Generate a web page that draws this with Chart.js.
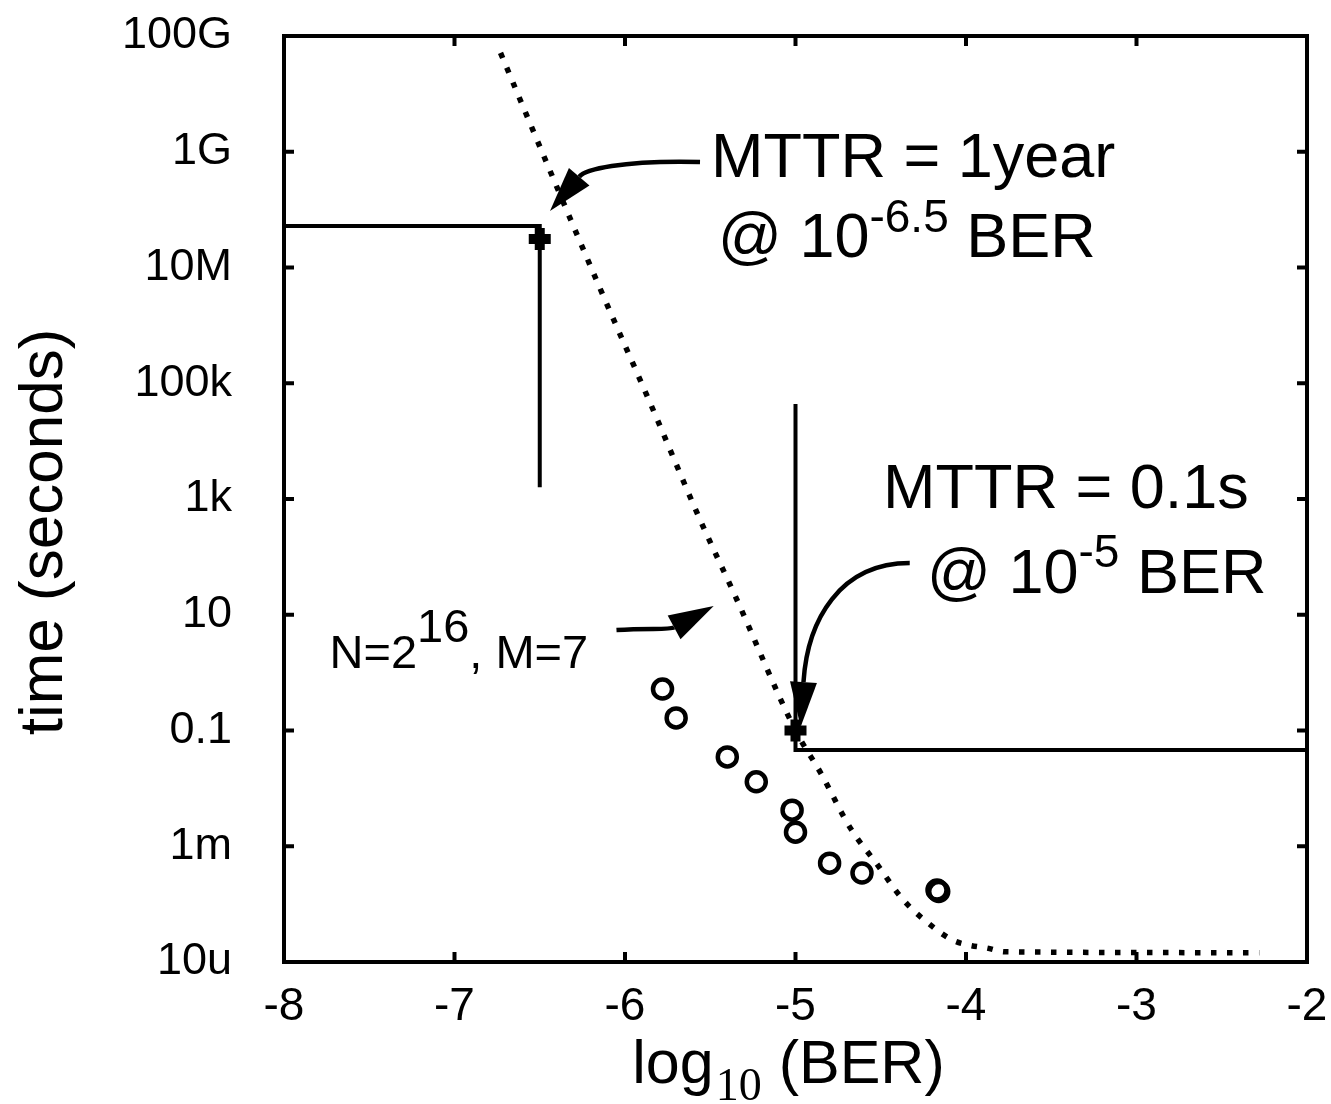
<!DOCTYPE html>
<html>
<head>
<meta charset="utf-8">
<title>MTTR vs BER</title>
<script src="https://cdn.jsdelivr.net/npm/chart.js@4.4.1/dist/chart.umd.min.js"></script>
<style>
  html, body { margin: 0; background: #fff; }
  #wrap { width: 1331px; height: 1104px; }
</style>
</head>
<body>
<div id="wrap"><canvas id="chart"></canvas></div>
<script>
const SANS = '"Liberation Sans", Arial, Helvetica, sans-serif';
const SERIF = '"Liberation Serif", "Times New Roman", serif';

// axis ticks
const xTicks = [-8, -7, -6, -5, -4, -3, -2];
const yTickValues = [1e-5, 1e-3, 1e-1, 10, 1e3, 1e5, 1e7, 1e9, 1e11];
const yTickLabels = ['10u', '1m', '0.1', '10', '1k', '100k', '10M', '1G', '100G'];

// model curve N=2^16, M=7 (dotted)
const curveBer = [-6.73, -6.41, -6.15, -5.85, -5.56, -5.35, -5.0, -4.85, -4.68, -4.52, -4.37, -4.23, -4.08, -3.98, -3.88, -3.77, -2.28];
const curveTime = [5.1e10, 2.9e8, 4.6e6, 4.4e4, 440, 20, 0.1, 0.018, 2.1e-3, 4.8e-4, 1.2e-4, 4.9e-5, 2.4e-5, 1.95e-5, 1.75e-5, 1.5e-5, 1.45e-5];

// measured points (o)
const measBer = [-5.78, -5.70, -5.40, -5.23, -5.02, -5.0, -4.80, -4.61, -4.17, -4.16];
const measTime = [0.52, 0.165, 0.035, 0.013, 4.2e-3, 1.75e-3, 5.1e-4, 3.45e-4, 1.75e-4, 1.65e-4];

// operating points (+)
const opBer = [-6.5, -5];
const opTime = [3.1e7, 0.1];

// bracket lines
const yearLineBer = [-8, -6.5, -6.5];
const yearLineTime = [5.2e7, 5.2e7, 1.6e3];
const fastLineBer = [-5, -5, -2];
const fastLineTime = [4.4e4, 0.046, 0.046];

// annotation arrows: start, ctrl1, ctrl2, tip  (ber, seconds)
const arrows = [
  [[-5.56, 6.65e8], [-6.03, 7.2e8], [-6.235, 4.84e8], [-6.44, 9.5e7]],
  [[-6.05, 5.46], [-5.85, 5.9], [-5.74, 5.46], [-5.48, 14.2]],
  [[-4.33, 78], [-4.74, 78], [-4.93, 8.1], [-4.97, 0.115]]
];

// annotation texts: anchor (ber, seconds), size, parts [text, sup?]
const notes = [
  { at: [-5.496, 3.66e8], size: 63, parts: [['MTTR = 1year']] },
  { at: [-5.455, 1.52e7], size: 63, sup: 46, rise: 25, parts: [['@ 10'], ['-6.5', true], [' BER']] },
  { at: [-4.487, 700], size: 63, parts: [['MTTR = 0.1s']] },
  { at: [-4.229, 23.8], size: 63, sup: 46, rise: 26, parts: [['@ 10'], ['-5', true], [' BER']] },
  { at: [-7.733, 1.2], size: 47, sup: 47, rise: 26, parts: [['N=2'], ['16', true], [', M=7']] }
];

const pts = (xs, ys) => xs.map((v, i) => ({ x: v, y: ys[i] }));

function drawArrow(ctx, p) {
  const [p0, c1, c2, tip] = p;
  const dx = tip.x - c2.x, dy = tip.y - c2.y, len = Math.hypot(dx, dy);
  const ux = dx / len, uy = dy / len;
  const headLen = 45, headW = 13.5;
  const bx = tip.x - ux * headLen, by = tip.y - uy * headLen;
  ctx.lineWidth = 4.5;
  ctx.beginPath();
  ctx.moveTo(p0.x, p0.y);
  ctx.bezierCurveTo(c1.x, c1.y, c2.x, c2.y, bx, by);
  ctx.stroke();
  ctx.beginPath();
  ctx.moveTo(tip.x, tip.y);
  ctx.lineTo(bx - uy * headW, by + ux * headW);
  ctx.lineTo(bx + uy * headW, by - ux * headW);
  ctx.closePath();
  ctx.fill();
}

// keep the plot box where the reference has it: no extra label padding
const noPad = s => { s.paddingTop = 0; s.paddingBottom = 0; s.paddingLeft = 0; s.paddingRight = 0; };

const frame = {
  id: 'frame',
  afterDatasetsDraw(chart) {
    const { ctx, chartArea: a, scales: { x, y } } = chart;
    const toPx = ([bx, t]) => ({ x: x.getPixelForValue(bx), y: y.getPixelForValue(t) });
    ctx.save();
    ctx.strokeStyle = '#000';
    ctx.fillStyle = '#000';

    // box + inner ticks
    ctx.lineWidth = 4;
    ctx.strokeRect(a.left, a.top, a.right - a.left, a.bottom - a.top);
    ctx.beginPath();
    xTicks.forEach(v => {
      const px = x.getPixelForValue(v);
      ctx.moveTo(px, a.bottom); ctx.lineTo(px, a.bottom - 10);
      ctx.moveTo(px, a.top); ctx.lineTo(px, a.top + 10);
    });
    yTickValues.forEach(v => {
      const py = y.getPixelForValue(v);
      ctx.moveTo(a.left, py); ctx.lineTo(a.left + 10, py);
      ctx.moveTo(a.right, py); ctx.lineTo(a.right - 10, py);
    });
    ctx.stroke();

    // arrows
    arrows.forEach(ar => drawArrow(ctx, ar.map(toPx)));

    // notes
    ctx.textBaseline = 'alphabetic';
    ctx.textAlign = 'left';
    notes.forEach(n => {
      let { x: px, y: py } = toPx(n.at);
      n.parts.forEach(([t, isSup]) => {
        const size = isSup ? n.sup : n.size;
        ctx.font = size + 'px ' + SANS;
        ctx.fillText(t, px, isSup ? py - n.rise : py);
        px += ctx.measureText(t).width;
      });
    });

    // x title: log10 (BER)
    const cx = (a.left + a.right) / 2, by = 1083;
    ctx.font = '61px ' + SANS;
    const w1 = ctx.measureText('log').width, w3 = ctx.measureText(' (BER)').width;
    ctx.font = '46px ' + SERIF;
    const w2 = ctx.measureText('10').width;
    let sx = cx - (w1 + w2 + w3) / 2 - 8;
    ctx.font = '61px ' + SANS;
    ctx.fillText('log', sx, by);
    ctx.font = '46px ' + SERIF;
    ctx.fillText('10', sx + w1 + 2, by + 17);
    ctx.font = '61px ' + SANS;
    ctx.fillText(' (BER)', sx + w1 + w2 + 2, by);

    // y title
    ctx.translate(62, 532);
    ctx.rotate(-Math.PI / 2);
    ctx.textAlign = 'center';
    ctx.font = '62px ' + SANS;
    ctx.fillText('time (seconds)', 0, 0);
    ctx.restore();
  }
};

new Chart(document.getElementById('chart'), {
  type: 'scatter',
  data: {
    datasets: [
      {
        label: 'op',
        data: pts(opBer, opTime),
        pointStyle: 'cross',
        pointRadius: 11,
        borderWidth: 10,
        borderColor: '#000'
      },
      {
        label: 'model',
        data: pts(curveBer, curveTime),
        showLine: true,
        borderColor: '#000',
        borderWidth: 5.5,
        borderDash: [5.5, 10.5],
        cubicInterpolationMode: 'monotone',
        pointRadius: 0
      },
      {
        label: 'measured',
        data: pts(measBer, measTime),
        pointStyle: 'circle',
        pointRadius: 9.5,
        borderWidth: 4.5,
        borderColor: '#000',
        backgroundColor: 'rgba(0,0,0,0)'
      },
      {
        label: '1 year',
        data: pts(yearLineBer, yearLineTime),
        showLine: true,
        borderColor: '#000',
        borderWidth: 4,
        pointRadius: 0
      },
      {
        label: '0.1 s',
        data: pts(fastLineBer, fastLineTime),
        showLine: true,
        borderColor: '#000',
        borderWidth: 4,
        pointRadius: 0
      }
    ]
  },
  options: {
    responsive: true,
    maintainAspectRatio: false,
    animation: false,
    events: [],
    layout: { padding: { left: 0, right: 24, top: 36, bottom: 0 } },
    plugins: { legend: { display: false }, tooltip: { enabled: false } },
    scales: {
      x: {
        type: 'linear',
        min: -8,
        max: -2,
        afterBuildTicks: s => { s.ticks = xTicks.map(v => ({ value: v })); },
        afterFit: s => { s.height = 142; noPad(s); },
        grid: { display: false, drawTicks: false },
        border: { display: false },
        ticks: { color: '#000', padding: 18, maxRotation: 0, font: { family: SANS, size: 46 } }
      },
      y: {
        type: 'logarithmic',
        min: 1e-5,
        max: 1e11,
        afterBuildTicks: s => { s.ticks = yTickValues.map(v => ({ value: v })); },
        afterFit: s => { s.width = 284; noPad(s); },
        grid: { display: false, drawTicks: false },
        border: { display: false },
        ticks: {
          color: '#000',
          padding: 52,
          font: { family: SANS, size: 45 },
          callback: v => yTickLabels[yTickValues.indexOf(v)]
        }
      }
    }
  },
  plugins: [frame]
});
</script>
</body>
</html>
